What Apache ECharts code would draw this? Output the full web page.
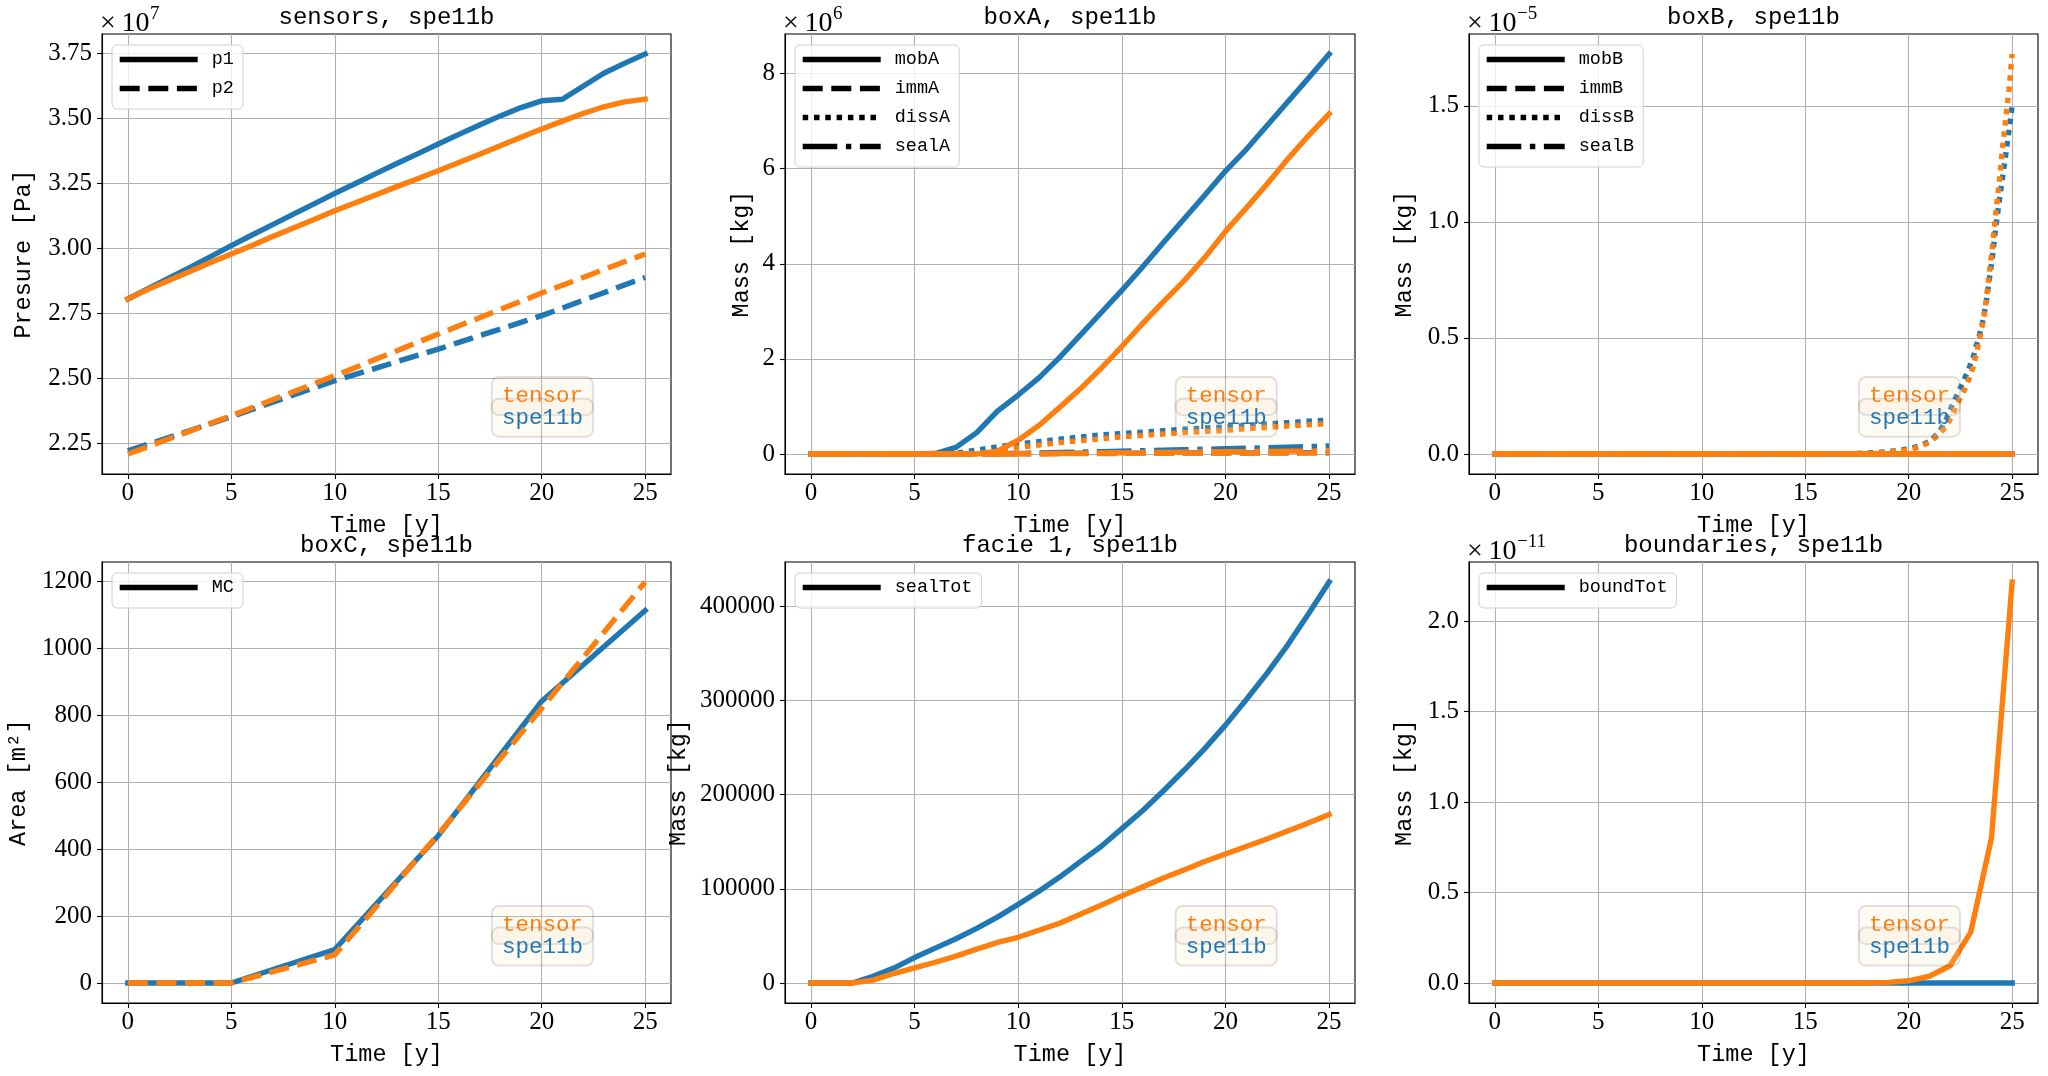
<!DOCTYPE html>
<html><head><meta charset="utf-8">
<script src="https://cdn.jsdelivr.net/npm/echarts@6/dist/echarts.min.js"></script>
<style>html,body{margin:0;padding:0;background:#fff}#c{width:2048px;height:1076px}</style>
</head><body><div id="c"></div>
<script>
// ---------------- data ----------------
const years = [0,1,2,3,4,5,6,7,8,9,10,11,12,13,14,15,16,17,18,19,20,21,22,23,24,25];
const xTicks = [0,5,10,15,20,25];

// sensors, pressure (x1e7 Pa)
const p1Spe11b = [2.804,2.845,2.885,2.925,2.967,3.009,3.050,3.090,3.130,3.170,3.210,3.248,3.287,3.325,3.362,3.400,3.437,3.473,3.508,3.540,3.566,3.572,3.622,3.672,3.710,3.746];
const p1Tensor = [2.804,2.842,2.876,2.910,2.944,2.977,3.010,3.044,3.077,3.110,3.143,3.174,3.205,3.236,3.266,3.297,3.329,3.361,3.393,3.426,3.458,3.488,3.517,3.543,3.562,3.572];
const p2Spe11b = [2.220,2.246,2.272,2.298,2.325,2.351,2.379,2.407,2.435,2.462,2.490,2.514,2.538,2.563,2.587,2.611,2.637,2.663,2.688,2.714,2.740,2.769,2.799,2.828,2.858,2.887];
const p2Tensor = [2.208,2.237,2.267,2.296,2.326,2.355,2.386,2.417,2.447,2.478,2.509,2.541,2.573,2.605,2.637,2.669,2.701,2.732,2.764,2.795,2.827,2.857,2.887,2.917,2.947,2.977];
const sensorsTicks = [2.25,2.5,2.75,3.0,3.25,3.5,3.75];

// boxA mass (x1e6 kg)
const mobASpe11b  = [0,0,0,0,0,0,0.01,0.14,0.45,0.90,1.24,1.60,2.03,2.50,2.97,3.44,3.93,4.44,4.94,5.44,5.95,6.40,6.90,7.40,7.90,8.41];
const mobATensor  = [0,0,0,0,0,0,0,0,0,0.06,0.29,0.60,0.98,1.37,1.80,2.26,2.74,3.20,3.64,4.13,4.68,5.17,5.67,6.20,6.69,7.15];
const immASpe11b  = [0,0,0,0,0,0,0,0,0.005,0.008,0.01,0.012,0.014,0.016,0.017,0.018,0.019,0.02,0.021,0.022,0.023,0.024,0.025,0.026,0.028,0.03];
const immATensor  = [0,0,0,0,0,0,0,0,0,0,0.004,0.006,0.008,0.01,0.011,0.012,0.013,0.014,0.015,0.016,0.017,0.017,0.018,0.019,0.019,0.02];
const dissASpe11b = [0,0,0,0,0,0,0,0.02,0.08,0.15,0.21,0.26,0.31,0.36,0.40,0.43,0.46,0.49,0.52,0.545,0.57,0.60,0.63,0.66,0.69,0.715];
const dissATensor = [0,0,0,0,0,0,0,0,0,0.03,0.14,0.19,0.24,0.28,0.32,0.36,0.39,0.42,0.45,0.475,0.50,0.53,0.56,0.59,0.615,0.64];
const sealASpe11b = [0,0,0,0,0,0,0,0,0,0.005,0.01,0.02,0.03,0.04,0.05,0.06,0.07,0.08,0.09,0.10,0.11,0.12,0.13,0.145,0.155,0.17];
const sealATensor = [0,0,0,0,0,0,0,0,0,0,0,0.005,0.01,0.015,0.02,0.025,0.03,0.035,0.04,0.045,0.05,0.05,0.055,0.06,0.06,0.065];
const boxATicks = [0,2,4,6,8];

// boxB mass (x1e-5 kg)
const mobBSpe11b  = [0,0,0,0,0,0,0,0,0,0,0,0,0,0,0,0,0,0,0,0,0,0,0,0,0,0];
const mobBTensor  = [0,0,0,0,0,0,0,0,0,0,0,0,0,0,0,0,0,0,0,0,0,0,0,0,0,0];
const immBSpe11b  = [0,0,0,0,0,0,0,0,0,0,0,0,0,0,0,0,0,0,0,0,0,0,0,0,0,0];
const immBTensor  = [0,0,0,0,0,0,0,0,0,0,0,0,0,0,0,0,0,0,0,0,0,0,0,0,0,0];
const sealBSpe11b = [0,0,0,0,0,0,0,0,0,0,0,0,0,0,0,0,0,0,0,0,0,0,0,0,0,0];
const sealBTensor = [0,0,0,0,0,0,0,0,0,0,0,0,0,0,0,0,0,0,0,0,0,0,0,0,0,0];
const dissBTime   = [0,17,18,19,20,20.5,21,21.5,21.8,22.1,22.45,22.8,23.1,23.25,23.4,23.6,23.75,23.9,24.05,24.2,24.4,24.55,24.7,24.85,25];
const dissBSpe11b = [0,0,0.004,0.01,0.022,0.035,0.053,0.097,0.147,0.21,0.277,0.345,0.41,0.462,0.505,0.578,0.655,0.754,0.85,0.97,1.105,1.20,1.295,1.395,1.50];
const dissBTensor = [0,0,0.002,0.008,0.017,0.03,0.05,0.088,0.118,0.165,0.234,0.295,0.37,0.425,0.485,0.57,0.665,0.783,0.895,1.03,1.19,1.332,1.45,1.57,1.723];
const boxBTicks = [0,0.5,1.0,1.5];

// boxC area (m2)
const boxCYears = [0,5,10,15,20,25];
const mcSpe11b = [0,0,100,440,842,1113];
const mcTensor = [0,0,84,444,821,1198];
const boxCTicks = [0,200,400,600,800,1000,1200];

// facie 1 seal mass (kg)
const sealTotSpe11b = [0,0,0,7000,15800,27000,37000,47000,58000,70000,83500,97500,112500,129000,145000,164000,183000,204000,226000,249000,274000,301000,329000,359000,392000,426000];
const sealTotTensor = [0,0,0,3000,10000,16000,22000,28500,36000,43000,48500,56000,63500,73000,82500,92500,102000,111500,120000,129000,137000,145000,153000,161500,170000,179000];
const facieTicks = [0,100000,200000,300000,400000];

// boundaries mass (x1e-11 kg)
const boundTotSpe11b = [0,0,0,0,0,0,0,0,0,0,0,0,0,0,0,0,0,0,0,0,0,0,0,0,0,0];
const boundTotTensor = [0,0,0,0,0,0,0,0,0,0,0,0,0,0,0,0,0,0,0,0.003,0.012,0.037,0.095,0.281,0.80,2.215];
const boundTicks = [0,0.5,1.0,1.5,2.0];

// ---------------- style / layout ----------------
const BLUE = '#1f77b4', ORANGE = '#ff7f0e';
const MONO = '"Liberation Mono", "DejaVu Sans Mono", monospace';
const SERIF = '"Liberation Serif", "DejaVu Serif", serif';
const LW = 5.4;
const DASH = { solid: 'solid', dashed: [20, 8.6], dotted: [5.5, 5.8], dashdot: [34.6, 8.6, 5.4, 8.6] };

const GRIDS = [
  { left: 102, top: 34, width: 569, height: 440 },
  { left: 785, top: 34, width: 570, height: 440 },
  { left: 1469, top: 34, width: 569, height: 440 },
  { left: 102, top: 562, width: 569, height: 441 },
  { left: 785, top: 562, width: 570, height: 441 },
  { left: 1469, top: 562, width: 569, height: 441 }
];

const panels = [
  { title: 'sensors, spe11b', yName: 'Presure [Pa]', yGap: 66, yTicks: sensorsTicks, dec: 2, exp: '7',
    legend: [['p1', 'solid'], ['p2', 'dashed']],
    lines: [[years, p1Spe11b, BLUE, 'solid'], [years, p2Spe11b, BLUE, 'dashed'],
            [years, p1Tensor, ORANGE, 'solid'], [years, p2Tensor, ORANGE, 'dashed']] },
  { title: 'boxA, spe11b', yName: 'Mass [kg]', yGap: 31, yTicks: boxATicks, dec: 0, exp: '6',
    legend: [['mobA', 'solid'], ['immA', 'dashed'], ['dissA', 'dotted'], ['sealA', 'dashdot']],
    lines: [[years, mobASpe11b, BLUE, 'solid'], [years, immASpe11b, BLUE, 'dashed'],
            [years, dissASpe11b, BLUE, 'dotted'], [years, sealASpe11b, BLUE, 'dashdot'],
            [years, mobATensor, ORANGE, 'solid'], [years, immATensor, ORANGE, 'dashed'],
            [years, dissATensor, ORANGE, 'dotted'], [years, sealATensor, ORANGE, 'dashdot']] },
  { title: 'boxB, spe11b', yName: 'Mass [kg]', yGap: 52, yTicks: boxBTicks, dec: 1, exp: '\u22125',
    legend: [['mobB', 'solid'], ['immB', 'dashed'], ['dissB', 'dotted'], ['sealB', 'dashdot']],
    lines: [[years, mobBSpe11b, BLUE, 'solid'], [years, immBSpe11b, BLUE, 'dashed'],
            [dissBTime, dissBSpe11b, BLUE, 'dotted'], [years, sealBSpe11b, BLUE, 'dashdot'],
            [years, mobBTensor, ORANGE, 'solid'], [years, immBTensor, ORANGE, 'dashed'],
            [dissBTime, dissBTensor, ORANGE, 'dotted'], [years, sealBTensor, ORANGE, 'dashdot']] },
  { title: 'boxC, spe11b', yName: 'Area [m\u00b2]', yGap: 71, yTicks: boxCTicks, dec: 0, exp: null,
    legend: [['MC', 'solid']],
    lines: [[boxCYears, mcSpe11b, BLUE, 'solid'], [boxCYears, mcTensor, ORANGE, 'dashed']] },
  { title: 'facie 1, spe11b', yName: 'Mass [kg]', yGap: 94, yTicks: facieTicks, dec: 0, exp: null,
    legend: [['sealTot', 'solid']],
    lines: [[years, sealTotSpe11b, BLUE, 'solid'], [years, sealTotTensor, ORANGE, 'solid']] },
  { title: 'boundaries, spe11b', yName: 'Mass [kg]', yGap: 52, yTicks: boundTicks, dec: 1, exp: '\u221211',
    legend: [['boundTot', 'solid']],
    lines: [[years, boundTotSpe11b, BLUE, 'solid'], [years, boundTotTensor, ORANGE, 'solid']] }
];

// ---------------- option ----------------
const option = {
  backgroundColor: '#ffffff',
  animation: false,
  textStyle: { fontFamily: MONO, color: '#000' },
  grid: [], xAxis: [], yAxis: [], series: [], legend: [], title: [], graphic: []
};

panels.forEach((p, i) => {
  const g = GRIDS[i];
  option.grid.push(Object.assign({ show: true, borderColor: '#000', borderWidth: 1.1,
    backgroundColor: 'rgba(0,0,0,0)', containLabel: false, outerBoundsMode: 'none' }, g));

  // matplotlib-like 5% data margins
  let lo = Infinity, hi = -Infinity;
  p.lines.forEach(l => l[1].forEach(v => { lo = Math.min(lo, v); hi = Math.max(hi, v); }));
  const pad = (hi - lo) * 0.05;

  const tickCommon = { show: true, inside: false, length: 5, lineStyle: { color: '#000', width: 1.1 } };
  const labelCommon = { fontFamily: SERIF, fontSize: 25, color: '#000' };
  const splitCommon = { show: true, lineStyle: { color: '#b0b0b0', width: 1.1 } };
  const nameStyle = { fontFamily: MONO, fontSize: 23.5, color: '#000' };

  option.xAxis.push({
    type: 'value', gridIndex: i, min: -1.25, max: 26.25,
    name: 'Time [y]', nameLocation: 'middle', nameGap: 40, nameTextStyle: nameStyle,
    axisLine: { show: true, onZero: false, lineStyle: { color: '#000', width: 1.1 } },
    axisTick: Object.assign({ customValues: xTicks }, tickCommon),
    axisLabel: Object.assign({ customValues: xTicks, margin: 7, formatter: v => String(v) }, labelCommon),
    splitLine: splitCommon
  });
  option.yAxis.push({
    type: 'value', gridIndex: i, min: lo - pad, max: hi + pad,
    name: p.yName, nameLocation: 'middle', nameGap: p.yGap, nameTextStyle: nameStyle,
    axisLine: { show: true, onZero: false, lineStyle: { color: '#000', width: 1.1 } },
    axisTick: Object.assign({ customValues: p.yTicks }, tickCommon),
    axisLabel: Object.assign({ customValues: p.yTicks, margin: 10, formatter: v => Number(v).toFixed(p.dec) }, labelCommon),
    splitLine: splitCommon
  });

  // data lines
  p.lines.forEach((l, k) => {
    const style = l[3];
    option.series.push({
      type: 'line', name: p.title + ' ' + (l[2] === BLUE ? 'spe11b' : 'tensor') + ' ' + k,
      xAxisIndex: i, yAxisIndex: i, symbol: 'none', silent: true, animation: false,
      data: l[0].map((x, j) => [x, l[1][j]]),
      lineStyle: { color: l[2], width: LW, type: DASH[style], cap: style === 'solid' ? 'square' : 'butt', join: 'round' },
      itemStyle: { color: l[2] }
    });
  });

  // legend proxy series (black line styles)
  p.legend.forEach(([name, style]) => {
    option.series.push({
      type: 'line', name: name, xAxisIndex: i, yAxisIndex: i, symbol: 'none', data: [],
      lineStyle: { color: '#000', width: LW, type: DASH[style] }, itemStyle: { color: '#000' }
    });
  });
  option.legend.push({
    show: true, data: p.legend.map(d => d[0]), orient: 'vertical',
    left: g.left + 10, top: g.top + 11,
    itemWidth: 78, itemHeight: 20, itemGap: 10, padding: [5, 9, 11, 5],
    backgroundColor: 'rgba(255,255,255,0.8)', borderColor: '#d0d0d0', borderWidth: 1, borderRadius: 5,
    textStyle: { fontFamily: MONO, fontSize: 18.5, color: '#000', padding: [0, 0, 0, 9] },
    itemStyle: { opacity: 0 }, lineStyle: { width: LW },
    selectedMode: false, z: 10
  });

  // title
  option.title.push({
    text: p.title, left: g.left + g.width / 2, top: g.top - 28, textAlign: 'center', padding: 0,
    textStyle: { fontFamily: MONO, fontSize: 24, fontWeight: 'normal', color: '#000' }
  });

  // annotation boxes
  const cx = g.left + 0.774 * g.width;
  [['tensor', ORANGE, 0.177], ['spe11b', BLUE, 0.128]].forEach(([t, c, f]) => {
    option.graphic.push({
      type: 'text', x: cx, y: g.top + g.height * (1 - f), z: 100, silent: true,
      style: { text: t, fill: c, font: '22.5px ' + MONO, align: 'center', verticalAlign: 'middle',
        lineHeight: 24, backgroundColor: 'rgba(245,222,179,0.15)', borderColor: 'rgba(0,0,0,0.12)',
        borderWidth: 1, borderRadius: 7, padding: [7, 10, 7, 10] }
    });
  });

  // offset (exponent) text
  if (p.exp) {
    option.graphic.push({
      type: 'text', x: g.left - 2, y: g.top - 10, z: 100, silent: true,
      style: { text: '\u00d7\u200910', fill: '#000', font: '28px ' + SERIF, align: 'left', verticalAlign: 'middle' }
    });
    option.graphic.push({
      type: 'text', x: g.left + 48, y: g.top - 20, z: 100, silent: true,
      style: { text: p.exp, fill: '#000', font: '19px ' + SERIF, align: 'left', verticalAlign: 'middle' }
    });
  }
});

const chart = echarts.init(document.getElementById('c'), null, { renderer: 'canvas', width: 2048, height: 1076 });
chart.setOption(option);
</script>
</body></html>
